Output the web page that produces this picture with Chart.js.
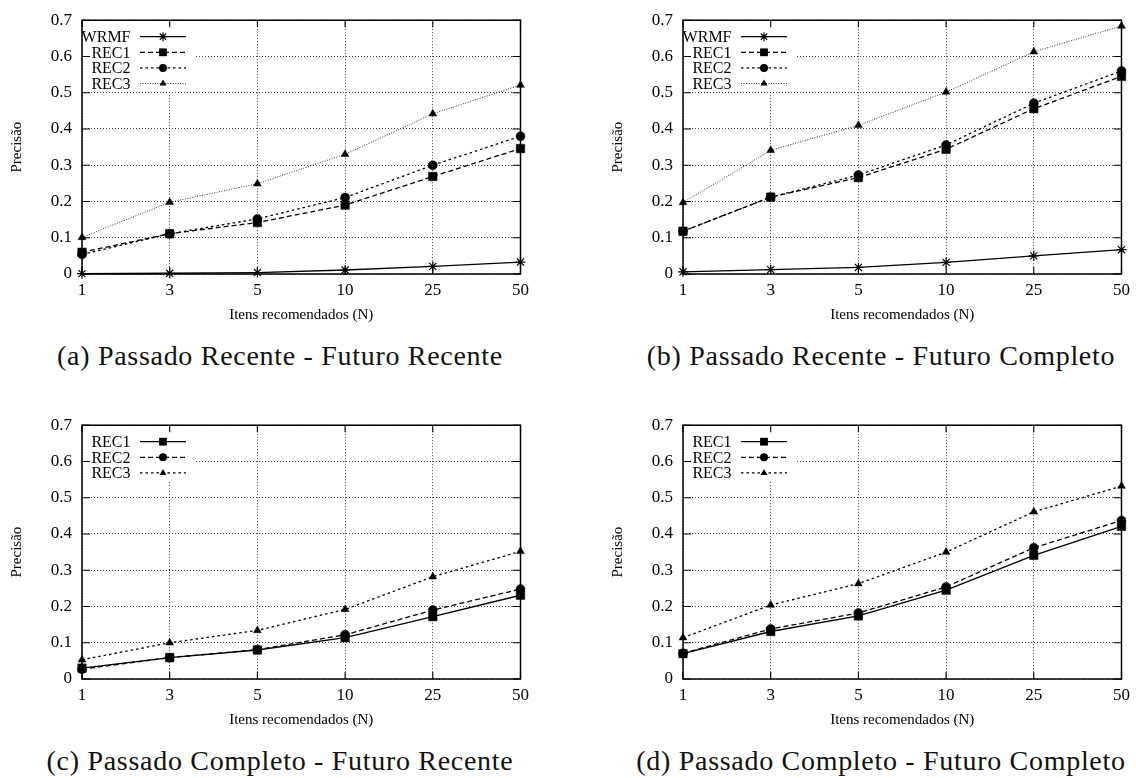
<!DOCTYPE html>
<html>
<head>
<meta charset="utf-8">
<script src="https://cdn.jsdelivr.net/npm/chart.js@4/dist/chart.umd.min.js"></script>
<style>
  body { margin: 0; background: #fff; width: 1136px; height: 778px; position: relative; overflow: hidden; }
  .panel { position: absolute; width: 535px; height: 395px; }
  .panel canvas { position: absolute; left: 0; top: 0; }
  .caption {
    position: absolute; left: 0; width: 560px; top: 340px;
    text-align: center; white-space: nowrap; color: #111;
    font-family: 'Liberation Serif', serif; font-size: 28px; letter-spacing: 0.7px;
  }
</style>
</head>
<body>
<div class="panel" style="left:0;top:0"><canvas id="chartA" width="535" height="330"></canvas><div class="caption">(a) Passado Recente - Futuro Recente</div></div>
<div class="panel" style="left:601px;top:0"><canvas id="chartB" width="535" height="330"></canvas><div class="caption">(b) Passado Recente - Futuro Completo</div></div>
<div class="panel" style="left:0;top:405px"><canvas id="chartC" width="535" height="330"></canvas><div class="caption">(c) Passado Completo - Futuro Recente</div></div>
<div class="panel" style="left:601px;top:405px"><canvas id="chartD" width="535" height="330"></canvas><div class="caption">(d) Passado Completo - Futuro Completo</div></div>

<script>
// number of recommended items (N)
const itens = ['1', '3', '5', '10', '25', '50'];
const yTicks = [0, 0.1, 0.2, 0.3, 0.4, 0.5, 0.6, 0.7];

// (a) recent past - recent future
const wrmfA = [0.001, 0.002, 0.004, 0.011, 0.021, 0.033];
const rec1A = [0.06, 0.111, 0.142, 0.19, 0.269, 0.346];
const rec2A = [0.054, 0.111, 0.152, 0.211, 0.30, 0.38];
const rec3A = [0.101, 0.198, 0.249, 0.33, 0.442, 0.521];

// (b) recent past - full future
const wrmfB = [0.006, 0.012, 0.018, 0.032, 0.05, 0.067];
const rec1B = [0.118, 0.212, 0.266, 0.344, 0.456, 0.545];
const rec2B = [0.118, 0.212, 0.273, 0.356, 0.471, 0.56];
const rec3B = [0.197, 0.341, 0.41, 0.502, 0.613, 0.684];

// (c) full past - recent future
const rec1C = [0.03, 0.059, 0.08, 0.114, 0.172, 0.231];
const rec2C = [0.027, 0.059, 0.081, 0.122, 0.19, 0.248];
const rec3C = [0.053, 0.1, 0.134, 0.192, 0.282, 0.352];

// (d) full past - full future
const rec1D = [0.07, 0.131, 0.174, 0.245, 0.341, 0.421];
const rec2D = [0.071, 0.138, 0.182, 0.254, 0.362, 0.437];
const rec3D = [0.114, 0.204, 0.263, 0.35, 0.461, 0.532];

const FONT = "'Liberation Serif', 'Times New Roman', serif";
const dashes = { solid: [], dashed: [5, 3], shortDash: [2.5, 3], dotted: [1, 1.5] };
const markerSize = { star: 5, rect: 6, circle: 4.5, triangle: 4.5 };

function series(label, data, dash, marker) {
  return {
    label, data,
    borderColor: dash === 'dotted' ? '#333' : '#000',
    borderWidth: dash === 'dotted' ? 1 : 1.3,
    borderDash: dashes[dash],
    pointStyle: marker,
    pointRadius: markerSize[marker],
    pointBackgroundColor: '#000',
    pointBorderColor: '#000',
    pointBorderWidth: marker === 'star' ? 1.2 : 0.5,
    tension: 0,
    fill: false,
    clip: false
  };
}

function drawMarker(ctx, style, x, y, r) {
  ctx.beginPath();
  if (style === 'rect') {
    const s = r * Math.SQRT1_2;
    ctx.rect(x - s, y - s, 2 * s, 2 * s);
    ctx.fill();
  } else if (style === 'circle') {
    ctx.arc(x, y, r, 0, Math.PI * 2);
    ctx.fill();
  } else if (style === 'triangle') {
    for (let k = 0; k < 3; k++) {
      const a = k * 2 * Math.PI / 3;
      ctx.lineTo(x + Math.sin(a) * r, y - Math.cos(a) * r);
    }
    ctx.closePath();
    ctx.fill();
  } else if (style === 'star') {
    const d = r * Math.SQRT1_2;
    ctx.moveTo(x - r, y); ctx.lineTo(x + r, y);
    ctx.moveTo(x, y - r); ctx.lineTo(x, y + r);
    ctx.moveTo(x - d, y - d); ctx.lineTo(x + d, y + d);
    ctx.moveTo(x - d, y + d); ctx.lineTo(x + d, y - d);
    ctx.lineWidth = 1.2;
    ctx.stroke();
  }
}

// gnuplot-like frame: white key box, key entries, border and inward mirrored tics
const gnuplotFrame = {
  id: 'gnuplotFrame',
  beforeDatasetsDraw(chart) {
    const { ctx, chartArea: a } = chart;
    const n = chart.data.datasets.length;
    ctx.save();
    ctx.fillStyle = '#fff';
    ctx.fillRect(a.left + 1, a.top + 1, 112, n * 15.6 + 8);
    ctx.restore();
  },
  afterDatasetsDraw(chart) {
    const { ctx, chartArea: a } = chart;
    ctx.save();
    ctx.font = '16px ' + FONT;
    ctx.textAlign = 'right';
    ctx.textBaseline = 'middle';
    chart.data.datasets.forEach((ds, i) => {
      const y = a.top + 16.5 + i * 15.6;
      ctx.fillStyle = '#000';
      ctx.fillText(ds.label, a.left + 48.5, y + 1);
      ctx.strokeStyle = ds.borderColor;
      ctx.lineWidth = ds.borderWidth;
      ctx.setLineDash(ds.borderDash);
      ctx.beginPath();
      ctx.moveTo(a.left + 58, y);
      ctx.lineTo(a.left + 104, y);
      ctx.stroke();
      ctx.setLineDash([]);
      ctx.fillStyle = '#000';
      ctx.strokeStyle = '#000';
      drawMarker(ctx, ds.pointStyle, a.left + 81, y, ds.pointRadius - 0.5);
    });
    ctx.restore();
  },
  afterDraw(chart) {
    const { ctx, chartArea: a, scales } = chart;
    ctx.save();
    ctx.strokeStyle = '#000';
    ctx.lineWidth = 1.5;
    ctx.strokeRect(a.left, a.top, a.right - a.left, a.bottom - a.top);
    ctx.lineWidth = 1.1;
    ctx.beginPath();
    itens.forEach((_, i) => {
      const x = scales.x.getPixelForValue(i);
      ctx.moveTo(x, a.bottom); ctx.lineTo(x, a.bottom - 7);
      ctx.moveTo(x, a.top); ctx.lineTo(x, a.top + 7);
    });
    yTicks.forEach(v => {
      const y = scales.y.getPixelForValue(v);
      ctx.moveTo(a.left, y); ctx.lineTo(a.left + 8, y);
      ctx.moveTo(a.right, y); ctx.lineTo(a.right - 8, y);
    });
    ctx.stroke();
    ctx.restore();
  }
};

function makeChart(id, datasets) {
  const gridColor = 'rgba(0,0,0,0.75)';
  return new Chart(document.getElementById(id), {
    type: 'line',
    data: { labels: itens, datasets },
    plugins: [gnuplotFrame],
    options: {
      responsive: false,
      animation: false,
      layout: { padding: { top: 13, right: 10, bottom: 0, left: 0 } },
      plugins: { legend: { display: false }, tooltip: { enabled: false } },
      scales: {
        x: {
          type: 'category',
          offset: false,
          grid: { offset: false, color: gridColor, lineWidth: 1, drawTicks: false },
          border: { display: false, dash: [1, 2] },
          ticks: { color: '#000', font: { family: FONT, size: 17 }, padding: 6, maxRotation: 0, autoSkip: false },
          title: {
            display: true, text: 'Itens recomendados (N)', color: '#000',
            font: { family: FONT, size: 15 }, padding: { top: 0, bottom: 6 }
          },
          afterFit(s) { s.height = 56; }
        },
        y: {
          min: 0, max: 0.7,
          afterBuildTicks(s) { s.ticks = yTicks.map(v => ({ value: v })); },
          grid: { color: gridColor, lineWidth: 1, drawTicks: false },
          border: { display: false, dash: [1, 2] },
          ticks: {
            color: '#000', font: { family: FONT, size: 17 }, padding: 10,
            callback: v => v === 0 ? '0' : v.toFixed(1)
          },
          title: {
            display: true, text: 'Precisão', color: '#000',
            font: { family: FONT, size: 15 }, padding: { top: 8, bottom: 0 }
          },
          afterFit(s) { s.width = 82; }
        }
      }
    }
  });
}

makeChart('chartA', [
  series('WRMF', wrmfA, 'solid', 'star'),
  series('REC1', rec1A, 'dashed', 'rect'),
  series('REC2', rec2A, 'shortDash', 'circle'),
  series('REC3', rec3A, 'dotted', 'triangle')
]);

makeChart('chartB', [
  series('WRMF', wrmfB, 'solid', 'star'),
  series('REC1', rec1B, 'dashed', 'rect'),
  series('REC2', rec2B, 'shortDash', 'circle'),
  series('REC3', rec3B, 'dotted', 'triangle')
]);

makeChart('chartC', [
  series('REC1', rec1C, 'solid', 'rect'),
  series('REC2', rec2C, 'dashed', 'circle'),
  series('REC3', rec3C, 'shortDash', 'triangle')
]);

makeChart('chartD', [
  series('REC1', rec1D, 'solid', 'rect'),
  series('REC2', rec2D, 'dashed', 'circle'),
  series('REC3', rec3D, 'shortDash', 'triangle')
]);
</script>
</body>
</html>
